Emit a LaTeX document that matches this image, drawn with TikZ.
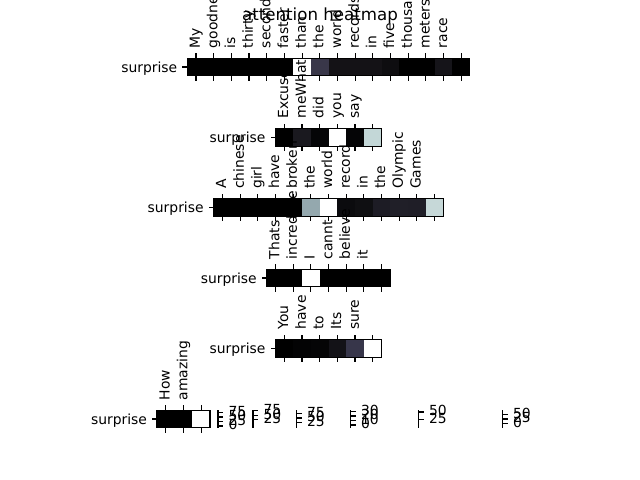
\documentclass[tikz,border=0pt]{standalone}
\usepackage{fontspec}
\setmainfont{DejaVu Sans}
\tikzset{
  spine/.style={draw=black, line width=0.8pt},
  tickmark/.style={draw=black, line width=0.8pt},
  tlabel/.style={rotate=90, anchor=west, inner sep=0pt, font=\fontsize{10}{12}\selectfont, text height=0.76em, text depth=0.22em},
  ylabel/.style={anchor=east, inner sep=0pt, font=\fontsize{10}{12}\selectfont, text height=0.76em, text depth=0pt},
  cblabel/.style={anchor=west, inner sep=0pt, font=\fontsize{10}{12}\selectfont, text height=0.76em, text depth=0.22em},
  titlestyle/.style={anchor=base, inner sep=0pt, font=\fontsize{12}{14}\selectfont},
  cbarline/.style={draw=black, line width=1.1pt}
}
\newcommand{\cellsz}{17.67}
\newcommand{\ticklen}{4.86}
% #1 id, #2 centre y, #3 left x, #4 number of cells, #5 cell colours, #6 labels
\newcommand{\hrow}[6]{%
  \foreach \h [count=\i from 0] in {#5}{%
    \edef\tmpdef{\noexpand\definecolor{tmpc}{HTML}{\h}}\tmpdef
    \fill[tmpc] ({#3+\i*\cellsz},{#2-\cellsz/2}) rectangle ({#3+(\i+1)*\cellsz},{#2+\cellsz/2});
  }
  \draw[spine] ({#3},{#2-\cellsz/2}) rectangle ({#3+#4*\cellsz},{#2+\cellsz/2});
  \foreach \i in {1,...,#4}{%
    \draw[tickmark] ({#3+(\i-0.5)*\cellsz},{#2-\cellsz/2}) -- ++(0,-\ticklen);
    \draw[tickmark] ({#3+(\i-0.5)*\cellsz},{#2+\cellsz/2}) -- ++(0,\ticklen);
  }
  \draw[tickmark] ({#3},{#2}) -- ++(-\ticklen,0);
  \node[ylabel] (Y#1) at ({#3-2*\ticklen},{#2}) {surprise};
  \foreach \w [count=\i from 0] in {#6}{%
    \node[tlabel] (L#1-\i) at ({#3+(\i+0.5)*\cellsz},{#2-\cellsz/2-2*\ticklen}) {\w};
  }
}
% #1 id, #2 x, #3 list y/label
\newcommand{\cbar}[3]{%
  \draw[cbarline] (#2,410.2) -- (#2,427.8);
  \foreach \yy/\lab in {#3}{%
    \draw[tickmark] ({#2+0.5},\yy) -- ++(\ticklen,0);
    \node[cblabel] (C#1-\lab) at ({#2+0.5+2*\ticklen},\yy) {\lab};
  }
}
\begin{document}
\begin{tikzpicture}[x=0.72pt, y=-0.72pt]
\fill[white] (0,0) rectangle (640,480);
\useasboundingbox (0,0) rectangle (640,480);

\hrow{a}{67}{187.2}{16}{000000,000000,000000,000000,000000,000000,FFFFFF,393749,141216,141216,141216,0E0D10,000000,000000,151419,000000}{My,goodness,is,thirty,second,faster,than,the,world,records,in,five,thousand,meters,race}

\hrow{b}{137.3}{275.5}{6}{000000,1A191F,050507,FFFFFF,050506,C3D7D7}{Excuse,meWhat,did,you,say}

\hrow{c}{207.6}{213.6}{13}{000000,000000,000000,000000,000000,94A8AE,FFFFFF,0B0B0E,0F0F12,1D1C25,201F28,1F1E27,C6D8D8}{A,chinese,girl,have,broken,the,world,record,in,the,Olympic,Games}

\hrow{d}{278}{266.7}{7}{000000,000000,FFFFFF,000000,000000,000000,000000}{Thats,incredible,I,cannt,believe,it}

\hrow{e}{348.3}{275.5}{6}{000000,030304,050506,131217,37364A,FFFFFF}{You,have,to,Its,sure}

\hrow{f}{419}{157}{3}{000000,000000,FFFFFF}{How,amazing}

\cbar{1}{218}{412.5/75,417/50,421.5/25,426/0}
\cbar{2}{253}{410.8/75,415.3/50,419.8/25}
\cbar{3}{296.5}{413.5/75,418/50,422.5/25}
\cbar{4}{350.5}{411.5/30,416/20,420.5/10,425/0}
\cbar{5}{418.5}{412/50,419.5/25}
\cbar{6}{502.5}{414.5/50,419/25,423.5/0}

\node[titlestyle] (title) at (320,20.5) {attention heatmap};
\end{tikzpicture}
\end{document}
